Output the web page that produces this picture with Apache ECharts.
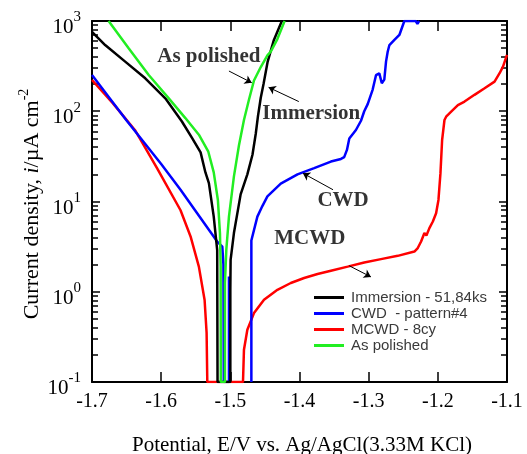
<!DOCTYPE html>
<html>
<head>
<meta charset="utf-8">
<script src="https://cdn.jsdelivr.net/npm/echarts@6/dist/echarts.min.js"></script>
<style>
html, body { margin: 0; padding: 0; background: #fff; }
#chart { width: 527px; height: 454px; }
</style>
</head>
<body>
<div id="chart"></div>
<script>
// potential E (V vs Ag/AgCl) , current density i (uA cm-2)
// 0.1 / 1000 = curve runs into the bottom / top edge of the plot
const seriesNames = ['Immersion - 51,84ks', 'CWD  - pattern#4', 'MCWD - 8cy', 'As polished']

const immersion = [
  [-1.700, 760], [-1.681, 542], [-1.652, 355], [-1.623, 232], [-1.594, 139],
  [-1.570, 77], [-1.555, 50], [-1.543, 35], [-1.536, 21], [-1.531, 16],
  [-1.524, 6.8], [-1.519, 2.9], [-1.5185, 0.1],
  [-1.500, 0.1], [-1.500, 1.05], [-1.4996, 2.26], [-1.4948, 4.47], [-1.4851, 12],
  [-1.4754, 20], [-1.468, 33], [-1.4633, 56], [-1.460, 89], [-1.456, 141],
  [-1.452, 200], [-1.446, 355], [-1.437, 617], [-1.4255, 1000]
]

// CWD is drawn in two pieces (cathodic + short stub, then anodic)
const cwdCathodic = [
  [-1.700, 252], [-1.650, 79], [-1.600, 26], [-1.572, 13.5], [-1.550, 7.8],
  [-1.519, 3.6], [-1.5116, 3.16], [-1.510, 2.0], [-1.5095, 0.1],
  [-1.502, 0.1], [-1.502, 1.48]
]
const cwdAnodic = [
  [-1.4696, 0.1], [-1.4696, 3.7], [-1.4609, 6.8], [-1.4537, 8.9], [-1.4464, 11.4],
  [-1.4271, 15.8], [-1.4029, 20], [-1.3788, 23.4], [-1.3546, 27.7], [-1.3401, 29.6],
  [-1.3354, 31], [-1.3314, 37.3], [-1.328, 50], [-1.3184, 62], [-1.3111, 78.5],
  [-1.3064, 100], [-1.3014, 120], [-1.2942, 174], [-1.2894, 251], [-1.2846, 263],
  [-1.281, 204], [-1.2774, 224], [-1.2749, 355], [-1.2725, 457], [-1.270, 542],
  [-1.2628, 617], [-1.2556, 700], [-1.2484, 1000],
  [-1.232, 1000], [-1.2295, 930], [-1.227, 1000]
]

const mcwd = [
  [-1.700, 222], [-1.670, 123], [-1.638, 62], [-1.606, 23.4], [-1.572, 8],
  [-1.5575, 4.1], [-1.5455, 1.9], [-1.5372, 0.81], [-1.5343, 0.35], [-1.5333, 0.1],
  [-1.4817, 0.1], [-1.4803, 0.228], [-1.4754, 0.38], [-1.4658, 0.58], [-1.4513, 0.815],
  [-1.4319, 1.05], [-1.4126, 1.25], [-1.3933, 1.42], [-1.3739, 1.57], [-1.3546, 1.71],
  [-1.3304, 1.9], [-1.3064, 2.11], [-1.2822, 2.3], [-1.258, 2.5], [-1.2339, 2.79],
  [-1.229, 3.05], [-1.2242, 3.6], [-1.2194, 4.47], [-1.2165, 4.2], [-1.2122, 5.07],
  [-1.2072, 6.0], [-1.2025, 7.4], [-1.1991, 10.4], [-1.1962, 20.6], [-1.1938, 48],
  [-1.1904, 80], [-1.188, 87], [-1.1807, 99], [-1.171, 117], [-1.1614, 128],
  [-1.147, 152], [-1.1324, 180], [-1.118, 213], [-1.1107, 264], [-1.1058, 312],
  [-1.100, 421]
]

const asPolished = [
  [-1.676, 1000], [-1.647, 499], [-1.618, 252], [-1.589, 139],
  [-1.565, 84], [-1.5455, 55], [-1.532, 36], [-1.524, 21], [-1.518, 10.4],
  [-1.515, 4.47], [-1.514, 1.9], [-1.5138, 0.1],
  [-1.5078, 0.1], [-1.5078, 1.25], [-1.5058, 2.92], [-1.502, 6.8], [-1.4948, 19],
  [-1.4875, 42], [-1.4803, 80], [-1.473, 135], [-1.4658, 219], [-1.456, 309],
  [-1.4464, 417], [-1.4416, 457], [-1.432, 631], [-1.4215, 1000]
]

// labels written on the plot and their arrows (data coordinates)
const noteTexts = ['As polished', 'Immersion', 'CWD', 'MCWD']
const notePos = [[-1.531, 403], [-1.383, 95], [-1.337, 10.2], [-1.385, 3.93]]
const arrowFrom = [[-1.502, 279], [-1.401, 128], [-1.3515, 13.5], [-1.3281, 1.94]]
const arrowTo = [[-1.469, 207], [-1.4447, 184], [-1.3951, 20.6], [-1.2967, 1.46]]

// minor ticks 2..9 of each decade, placed on a hidden axis running in log10 units
const yMinorLog = []
for (let d = -1; d < 3; d++) {
  for (let k = 2; k <= 9; k++) yMinorLog.push(d + Math.log10(k))
}

const serif = 'Liberation Serif'

const chart = echarts.init(document.getElementById('chart'))

const yMain = (position, withLabels) => ({
  type: 'log',
  logBase: 10,
  min: 0.1,
  max: 1000,
  position: position,
  axisLine: { show: true, onZero: false, lineStyle: { color: '#000', width: 2 } },
  axisTick: { show: true, inside: true, length: 8, lineStyle: { color: '#000', width: 1.5 } },
  axisLabel: withLabels ? {
    show: true,
    margin: 11,
    padding: [6, 0, 0, 0],
    formatter: v => '{b|10}{s|' + Math.round(Math.log10(v)) + '}',
    rich: {
      b: { fontFamily: serif, fontSize: 21, color: '#000', lineHeight: 28, verticalAlign: 'bottom' },
      s: { fontFamily: serif, fontSize: 15, color: '#000', lineHeight: 15, verticalAlign: 'top' }
    }
  } : { show: false },
  splitLine: { show: false }
})

const yMinor = position => ({
  type: 'value',
  min: -1,
  max: 3,
  position: position,
  axisLine: { show: false },
  axisTick: { show: true, inside: true, length: 6, customValues: yMinorLog, lineStyle: { color: '#000', width: 1.5 } },
  axisLabel: { show: false },
  splitLine: { show: false }
})

const xAxisBase = (position, withLabels) => ({
  type: 'value',
  min: -1.7,
  max: -1.1,
  interval: 0.1,
  position: position,
  axisLine: { show: true, onZero: false, lineStyle: { color: '#000', width: 2 } },
  axisTick: { show: true, inside: true, length: 10, lineStyle: { color: '#000', width: 1.5 } },
  axisLabel: withLabels ? {
    show: true,
    margin: 10,
    fontFamily: serif,
    fontSize: 20,
    color: '#000',
    formatter: v => v.toFixed(1)
  } : { show: false },
  splitLine: { show: false }
})

const curve = (name, data, color) => ({
  name: name,
  type: 'line',
  data: data,
  color: color,
  showSymbol: false,
  clip: true,
  lineStyle: { width: 2.5, color: color },
  emphasis: { disabled: true },
  animation: false
})

const option = {
  animation: false,
  grid: { left: 92, right: 20, top: 21, bottom: 72, containLabel: false, outerBoundsMode: 'none' },
  legend: {
    data: seriesNames,
    orient: 'vertical',
    left: 309,
    top: 285,
    icon: 'rect',
    itemWidth: 30,
    itemHeight: 3,
    itemGap: 1,
    textStyle: { fontFamily: 'Liberation Sans', fontSize: 15, lineHeight: 14.5, color: '#3a3a3a', padding: [0, 0, 0, 2] },
    selectedMode: false
  },
  // axis titles
  graphic: [
    {
      type: 'text',
      x: 302,
      y: 445,
      style: {
        text: 'Potential, E/V vs. Ag/AgCl(3.33M KCl)',
        fontFamily: serif,
        fontSize: 21,
        fill: '#000',
        align: 'center',
        verticalAlign: 'middle'
      }
    },
    {
      type: 'text',
      x: 30,
      y: 204,
      rotation: Math.PI / 2,
      style: {
        text: '{n|Current density, }{it|i}{n|/µA cm}{sup|-2}',
        align: 'center',
        verticalAlign: 'middle',
        rich: {
          n: { fontFamily: serif, fontSize: 22, fill: '#000', lineHeight: 26, verticalAlign: 'bottom' },
          it: { fontFamily: serif, fontSize: 22, fontStyle: 'italic', fill: '#000', lineHeight: 26, verticalAlign: 'bottom' },
          sup: { fontFamily: serif, fontSize: 14, fill: '#000', lineHeight: 14, verticalAlign: 'top' }
        }
      }
    }
  ],
  xAxis: [xAxisBase('bottom', true), xAxisBase('top', false)],
  yAxis: [yMain('left', true), yMinor('left'), yMain('right', false), yMinor('right')],
  series: [
    curve(seriesNames[2], mcwd, '#ff0000'),
    curve(seriesNames[1], cwdCathodic, '#0000ff'),
    curve(seriesNames[1], cwdAnodic, '#0000ff'),
    curve(seriesNames[0], immersion, '#000000'),
    curve(seriesNames[3], asPolished, '#22ee22'),
    {
      name: 'arrows',
      type: 'lines',
      coordinateSystem: 'cartesian2d',
      symbol: ['none', 'arrow'],
      symbolSize: 7,
      lineStyle: { color: '#000', width: 1, opacity: 1 },
      data: arrowFrom.map((p, k) => ({ coords: [p, arrowTo[k]] })),
      silent: true,
      z: 5
    },
    {
      name: 'notes',
      type: 'scatter',
      symbolSize: 1,
      itemStyle: { color: 'rgba(0,0,0,0)' },
      data: notePos,
      label: {
        show: true,
        position: 'inside',
        formatter: p => noteTexts[p.dataIndex],
        fontFamily: serif,
        fontWeight: 'bold',
        fontSize: 21,
        color: '#000'
      },
      silent: true,
      z: 6
    }
  ]
}

chart.setOption(option)
</script>
</body>
</html>
